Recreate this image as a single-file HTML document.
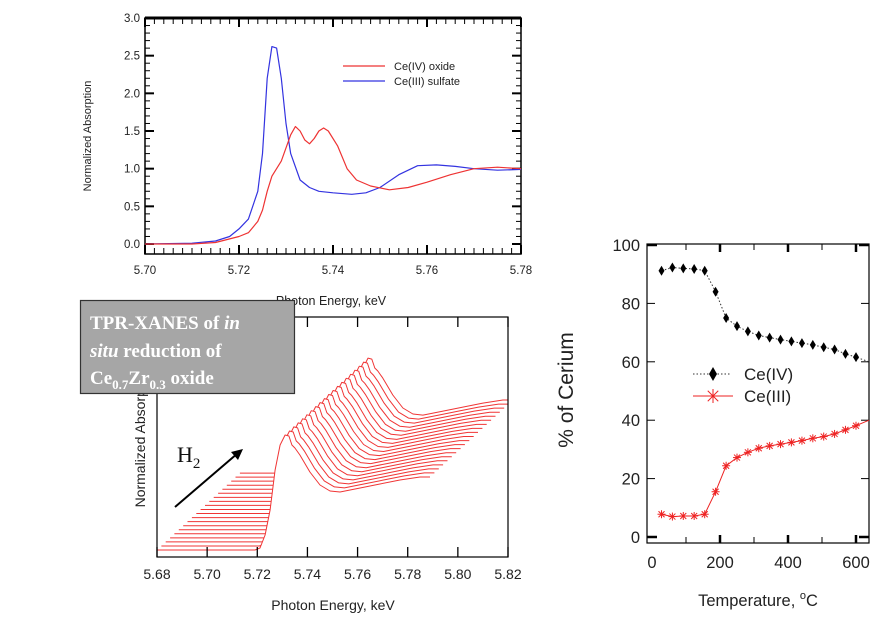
<!DOCTYPE html>
<html><head><meta charset="utf-8">
<style>
html,body{margin:0;padding:0;background:#fff;}
svg{display:block;font-family:"Liberation Sans",sans-serif;}
</style></head>
<body>
<svg id="root" width="888" height="629" viewBox="0 0 888 629">
  <g id="top"></g>
  <g id="bot"></g>
  <g id="right"></g>
</svg>
<script>
// ---- Top chart data ----
const topXTicks = [5.70, 5.72, 5.74, 5.76, 5.78];
const topXTickLabels = ["5.70", "5.72", "5.74", "5.76", "5.78"];
const topYTicks = [0, 0.5, 1.0, 1.5, 2.0, 2.5, 3.0];
const topYTickLabels = ["0.0", "0.5", "1.0", "1.5", "2.0", "2.5", "3.0"];
const ce4OxideE = [5.70,5.71,5.715,5.72,5.722,5.724,5.725,5.726,5.727,5.729,5.731,5.732,5.733,5.734,5.735,5.736,5.737,5.738,5.739,5.741,5.743,5.745,5.748,5.752,5.756,5.760,5.765,5.770,5.775,5.78];
const ce4OxideA = [0,0,0.02,0.1,0.15,0.3,0.45,0.7,0.9,1.1,1.45,1.56,1.5,1.38,1.33,1.4,1.5,1.54,1.5,1.3,1.0,0.85,0.77,0.72,0.75,0.82,0.92,1.0,1.02,1.0];
const ce3SulfateE = [5.70,5.71,5.715,5.718,5.720,5.722,5.724,5.725,5.726,5.727,5.728,5.729,5.730,5.731,5.733,5.735,5.737,5.740,5.744,5.747,5.750,5.754,5.758,5.762,5.766,5.770,5.775,5.78];
const ce3SulfateA = [0,0.01,0.04,0.1,0.2,0.33,0.7,1.2,2.2,2.62,2.6,2.2,1.6,1.2,0.85,0.75,0.7,0.68,0.66,0.68,0.75,0.92,1.04,1.05,1.03,1.0,0.98,0.99];

// ---- Bottom (TPR-XANES) data ----
const botXTicks = [5.68,5.70,5.72,5.74,5.76,5.78,5.80,5.82];
const botXTickLabels = ["5.68","5.70","5.72","5.74","5.76","5.78","5.80","5.82"];
const spectrumE = [5.680,5.7191,5.7211,5.7231,5.7251,5.7271,5.7291,5.7311,5.7326,5.7338,5.7350,5.7370,5.7410,5.7450,5.7490,5.7530,5.7610,5.7689,5.7769,5.7849,5.7889];
const spectrumA = [0,0,0.02,0.15,0.40,0.80,1.05,1.15,1.14,1.05,1.02,0.95,0.78,0.65,0.59,0.58,0.62,0.66,0.70,0.73,0.73];
const scanIndex = [0,1,2,3,4,5,6,7,8,9,10,11,12,13,14,15,16,17,18,19];

// ---- Right chart data ----
const temps = [28,60,92,124,155,187,218,250,282,314,346,378,410,441,473,505,537,569,600];
const ce4Pct = [91.2,92.3,92,91.8,91.2,84,75,72.2,70.4,69,68.3,67.6,67,66.4,65.8,65,64.2,62.7,61.6];
const ce3Pct = [7.8,7.0,7.2,7.2,7.8,15.5,24.4,27.2,29,30.4,31.2,31.8,32.4,33,33.8,34.4,35.3,36.7,38.1];
const rXTicks = [0,200,400,600];
const rXTickLabels = ["0","200","400","600"];
const rYTicks = [0,20,40,60,80,100];
const rYTickLabels = ["0","20","40","60","80","100"];

const NS="http://www.w3.org/2000/svg";
function mk(tag, attrs, parent){const e=document.createElementNS(NS,tag);for(const k in attrs)e.setAttribute(k,attrs[k]);parent.appendChild(e);return e;}

// ===== TOP CHART =====
(function(){
  const g=document.getElementById('top');
  const L=145,R=521,T=18,B=254,Y0=244,ymin=0,ymax=3;
  const x=v=>L+(v-5.70)/0.08*(R-L);
  const y=v=>Y0-(v-ymin)/(ymax-ymin)*(Y0-T);
  const frame=mk('rect',{x:L,y:T,width:R-L,height:B-T,fill:'none',stroke:'#000','stroke-width':1.5},g);
  
  
  mk('line',{x1:L,y1:T,x2:R,y2:T,stroke:'#000','stroke-width':3},g);
  for(let v=5.70;v<=5.7801;v+=0.002){
    const major=Math.abs(((v-5.70)/0.02)-Math.round((v-5.70)/0.02))<0.01;
    const len=major?9:6;
    mk('line',{x1:x(v),y1:B,x2:x(v),y2:B-len,stroke:'#000','stroke-width':major?2:1},g);
    mk('line',{x1:x(v),y1:T,x2:x(v),y2:T+len,stroke:'#000','stroke-width':major?2:1},g);
  }
  for(let v=0;v<=3.001;v+=0.1){
    const major=Math.abs(v*2-Math.round(v*2))<0.01;
    const len=major?9:5;
    mk('line',{x1:L,y1:y(v),x2:L+len,y2:y(v),stroke:'#000','stroke-width':major?2:1},g);
    mk('line',{x1:R,y1:y(v),x2:R-len,y2:y(v),stroke:'#000','stroke-width':major?2:1},g);
  }
  topXTicks.forEach((v,i)=>{
    const t=mk('text',{x:x(v),y:274,'font-size':11.5,'text-anchor':'middle',fill:'#222'},g);
    t.textContent=topXTickLabels[i];
    
    
  });
  topYTicks.forEach((v,i)=>{
    const t=mk('text',{x:140,y:y(v)+4,'font-size':11.5,'text-anchor':'end',fill:'#222'},g);
    t.textContent=topYTickLabels[i];
    
    
  });
  const yt=mk('text',{x:0,y:0,'font-size':11,'text-anchor':'middle',fill:'#222',transform:'translate(91,136) rotate(-90)'},g);
  yt.textContent='Normalized Absorption';
  
  
  const xt=mk('text',{x:331,y:305,'font-size':12.5,'text-anchor':'middle',fill:'#222'},g);
  xt.textContent='Photon Energy,  keV';
  
  
  function series(E,A,col,name){
    const d=E.map((e,i)=>(i?'L':'M')+x(e).toFixed(1)+','+y(A[i]).toFixed(1)).join('');
    const p=mk('path',{d:d,fill:'none',stroke:col,'stroke-width':1.2,'stroke-linejoin':'round'},g);
    
    
  }
  series(ce3SulfateE,ce3SulfateA,'#3333e0','ce3-sulfate-line');
  series(ce4OxideE,ce4OxideA,'#ee3333','ce4-oxide-line');
  mk('line',{x1:343,y1:66,x2:385,y2:66,stroke:'#ee3333','stroke-width':1.2},g);
  mk('line',{x1:343,y1:81,x2:385,y2:81,stroke:'#3333e0','stroke-width':1.2},g);
  const l1=mk('text',{x:394,y:70,'font-size':11,fill:'#222'},g);l1.textContent='Ce(IV) oxide';
  
  
  const l2=mk('text',{x:394,y:85,'font-size':11,fill:'#222'},g);l2.textContent='Ce(III) sulfate';
  
  
})();

// ===== BOTTOM CHART =====
(function(){
  const g=document.getElementById('bot');
  const L=157,R=508,T=317,B=557,BASE=550;
  const x=v=>L+(v-5.68)/0.14*(R-L);
  const y=a=>BASE-a*100;
  const dxE=0.00174, dyA=0.0405;
  const clip=mk('clipPath',{id:'botclip'},g);
  mk('rect',{x:L,y:T,width:R-L,height:B-T},clip);
  const cg=mk('g',{'clip-path':'url(#botclip)'},g);
  scanIndex.slice().reverse().forEach(i=>{
    const pts=spectrumE.map((e,k)=>[x(e+i*dxE),y(spectrumA[k]+i*dyA)]);
    let d=pts.map((p,k)=>(k?'L':'M')+p[0].toFixed(1)+','+p[1].toFixed(1)).join('');
    const fill='M'+pts[0][0].toFixed(1)+','+B+d.replace(/^M/,'L')+'L'+pts[pts.length-1][0].toFixed(1)+','+B+'Z';
    mk('path',{d:fill,fill:'#fff',stroke:'none'},cg);
    const p=mk('path',{d:d,fill:'none',stroke:'#f03535','stroke-width':1,'stroke-linejoin':'round'},cg);
    
    
  });
  const fr=mk('rect',{x:L,y:T,width:R-L,height:B-T,fill:'none',stroke:'#000','stroke-width':1.2},g);
  
  
  botXTicks.forEach((v,i)=>{
    mk('line',{x1:x(v),y1:B,x2:x(v),y2:B-10,stroke:'#000','stroke-width':1.3},g);
    mk('line',{x1:x(v),y1:T,x2:x(v),y2:T+10,stroke:'#000','stroke-width':1.3},g);
    const t=mk('text',{x:x(v),y:579,'font-size':14,'text-anchor':'middle',fill:'#222'},g);
    t.textContent=botXTickLabels[i];
    
    
  });
  const xt=mk('text',{x:333,y:610,'font-size':14,'text-anchor':'middle',fill:'#222'},g);
  xt.textContent='Photon Energy, keV';
  
  
  const yt=mk('text',{x:0,y:0,'font-size':14,'text-anchor':'middle',fill:'#222',transform:'translate(145,437) rotate(-90)'},g);
  yt.textContent='Normalized Absorption';
  
  
  const ar=mk('line',{x1:175,y1:507,x2:238,y2:453,stroke:'#000','stroke-width':2},g);
  
  
  mk('path',{d:'M243,449 L231,452 L238,460 Z',fill:'#000'},g);
  const h=mk('text',{x:177,y:462,'font-size':22,fill:'#111','font-family':'Liberation Serif, serif'},g);
  h.innerHTML='H<tspan font-size="15" dy="6">2</tspan>';
  
  
  const bx=mk('rect',{x:80.5,y:300.5,width:214,height:93,fill:'#a6a6a6',stroke:'#333','stroke-width':1.2},g);
  
  
  const tf='font-family="Liberation Serif, serif" font-weight="bold" font-size="19" fill="#fff"';
  const an=mk('g',{},g);
  
  
  an.innerHTML='<text x="90" y="329" '+tf+'>TPR-XANES of <tspan font-style="italic">in</tspan></text>'+
    '<text x="90" y="357" '+tf+'><tspan font-style="italic">situ</tspan> reduction of</text>'+
    '<text x="90" y="384" '+tf+'>Ce<tspan font-size="13" dy="5">0.7</tspan><tspan dy="-5">Zr</tspan><tspan font-size="13" dy="5">0.3</tspan><tspan dy="-5"> oxide</tspan></text>';
})();

// ===== RIGHT CHART =====
(function(){
  const g=document.getElementById('right');
  const L=647,R=869,T=244,B=543;
  const x=v=>652+v*(204/600);
  const y=v=>537-v*2.92;
  rYTicks.forEach((v,i)=>{
    const major=(v===0||v===100);
    mk('line',{x1:L,y1:y(v),x2:L+(major?10:8),y2:y(v),stroke:'#000','stroke-width':major?2.5:1},g);
    mk('line',{x1:R,y1:y(v),x2:R-(major?10:8),y2:y(v),stroke:'#000','stroke-width':major?2.5:1},g);
    const t=mk('text',{x:640,y:y(v)+6,'font-size':16.5,'text-anchor':'end',fill:'#222'},g);
    t.textContent=rYTickLabels[i];
    
    
  });
  for(let v=100;v<=600;v+=100){
    const major=(v%200===0);
    mk('line',{x1:x(v),y1:T,x2:x(v),y2:T+(major?8:6),stroke:'#000','stroke-width':major?2.5:1},g);
    mk('line',{x1:x(v),y1:B,x2:x(v),y2:B-(major?8:6),stroke:'#000','stroke-width':major?2.5:1},g);
  }
  const fr=mk('rect',{x:L,y:T,width:R-L,height:B-T,fill:'none',stroke:'#000','stroke-width':1.2},g);
  
  
  rXTicks.forEach((v,i)=>{
    const t=mk('text',{x:x(v),y:568,'font-size':16.5,'text-anchor':'middle',fill:'#222'},g);
    t.textContent=rXTickLabels[i];
    
    
  });
  const xt=mk('text',{x:758,y:606,'font-size':16.5,'text-anchor':'middle',fill:'#222'},g);
  xt.innerHTML='Temperature, <tspan font-size="11" dy="-7">o</tspan><tspan dy="7">C</tspan>';
  
  
  const yt=mk('text',{x:0,y:0,'font-size':21,'text-anchor':'middle',fill:'#222',transform:'translate(573,390) rotate(-90)'},g);
  yt.textContent='% of Cerium';
  
  
  // Ce(IV)
  const d4=temps.map((t,i)=>(i?'L':'M')+x(t).toFixed(1)+','+y(ce4Pct[i]).toFixed(1)).join('')+'L'+R+','+y(60);
  const l4=mk('path',{d:d4,fill:'none',stroke:'#333','stroke-width':1,'stroke-dasharray':'1.5,2'},g);
  
  
  temps.forEach((t,i)=>{
    const cx=x(t),cy=y(ce4Pct[i]);
    const m=mk('path',{d:`M${cx},${cy-5}L${cx+3},${cy}L${cx},${cy+5}L${cx-3},${cy}Z`,fill:'#000'},g);
    
    
  });
  // Ce(III)
  const d3=temps.map((t,i)=>(i?'L':'M')+x(t).toFixed(1)+','+y(ce3Pct[i]).toFixed(1)).join('')+'L'+R+','+y(40);
  const l3=mk('path',{d:d3,fill:'none',stroke:'#ee2222','stroke-width':1},g);
  
  
  function star(cx,cy,s,parent){
    const gg=mk('g',{stroke:'#ee2222','stroke-width':1},parent);
    mk('line',{x1:cx-s,y1:cy,x2:cx+s,y2:cy},gg);
    mk('line',{x1:cx,y1:cy-s,x2:cx,y2:cy+s},gg);
    mk('line',{x1:cx-s*0.75,y1:cy-s*0.75,x2:cx+s*0.75,y2:cy+s*0.75},gg);
    mk('line',{x1:cx-s*0.75,y1:cy+s*0.75,x2:cx+s*0.75,y2:cy-s*0.75},gg);
    return gg;
  }
  temps.forEach((t,i)=>{
    const s=star(x(t),y(ce3Pct[i]),4,g);
    
    
  });
  // legend
  mk('line',{x1:693,y1:374,x2:730,y2:374,stroke:'#333','stroke-width':1,'stroke-dasharray':'1.5,2'},g);
  mk('path',{d:'M713,367L717,374L713,381L709,374Z',fill:'#000'},g);
  const t1=mk('text',{x:744,y:380,'font-size':17,fill:'#222'},g);t1.textContent='Ce(IV)';
  
  
  mk('line',{x1:693,y1:396,x2:733,y2:396,stroke:'#ee2222','stroke-width':1},g);
  star(713,396,7,g);
  const t2=mk('text',{x:744,y:402,'font-size':17,fill:'#222'},g);t2.textContent='Ce(III)';
  
  
})();
</script>
</body></html>
